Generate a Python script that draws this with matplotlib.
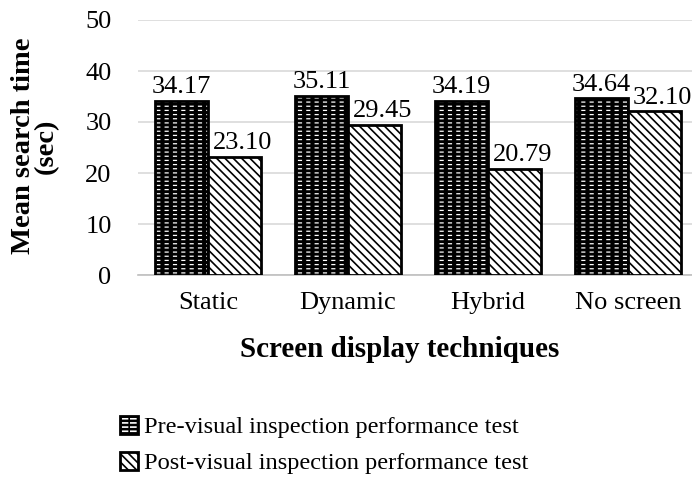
import matplotlib
matplotlib.use("Agg")
import matplotlib.pyplot as plt
import numpy as np

categories = ["Static", "Dynamic", "Hybrid", "No screen"]
pre_values = [34.17, 35.11, 34.19, 34.64]
post_values = [23.10, 29.45, 20.79, 32.10]
series_names = ["Pre-visual inspection performance test",
                "Post-visual inspection performance test"]
yticks = [0, 10, 20, 30, 40, 50]

plt.rcParams['font.family'] = ['Liberation Serif', 'DejaVu Serif']
plt.rcParams['hatch.linewidth'] = 1.2

FS = 19

fig = plt.figure(figsize=(6.92, 4.86), dpi=100)
ax = fig.add_axes([138/692, 1-275/486, 554/692, 255/486])

x = np.arange(len(categories))
w = 0.378


def hlw(container, lw):
    for p in container:
        if hasattr(p, 'set_hatch_linewidth'):
            p.set_hatch_linewidth(lw)


# pre bars: black with white horizontal dashes
pre_base = ax.bar(x - w/2, pre_values, w, facecolor='black', edgecolor='white',
                  hatch='----', linewidth=0, zorder=2)
hlw(pre_base, 0.9)
pre_top = ax.bar(x - w/2, pre_values, w, facecolor='none', edgecolor='black',
                 hatch='||', linewidth=2, zorder=3)
hlw(pre_top, 3.0)
post = ax.bar(x + w/2, post_values, w, facecolor='white', edgecolor='black',
              hatch='\\\\\\\\', linewidth=2, zorder=3)
hlw(post, 1.2)

for xi, v in zip(x - w/2, pre_values):
    ax.annotate(f"{v:.2f}", (xi, v), xytext=(0, 2), textcoords='offset points',
                ha='center', va='bottom', fontsize=FS)
for xi, v in zip(x + w/2, post_values):
    ax.annotate(f"{v:.2f}", (xi, v), xytext=(6, 2), textcoords='offset points',
                ha='center', va='bottom', fontsize=FS)

ax.set_xlim(-0.5, 3.457)
ax.set_ylim(0, 50)
ax.set_yticks(yticks)
ax.set_xticks(x)
ax.set_xticklabels(categories)
ax.tick_params(axis='both', length=0, labelsize=FS)
ax.tick_params(axis='x', pad=12)
ax.tick_params(axis='y', pad=19)
ax.grid(axis='y', color='#d9d9d9', linewidth=1.2, zorder=0)
ax.set_axisbelow(True)
for s in ['top', 'right', 'left']:
    ax.spines[s].set_visible(False)
ax.spines['bottom'].set_color('#bfbfbf')
ax.spines['bottom'].set_linewidth(1.2)

fig.text(35/692, 1-146/486, "Mean search time\n(sec)", rotation=90,
         ha='center', va='center', fontsize=20.5, fontweight='bold', linespacing=0.9)
fig.text(400/692, 1-349/486, "Screen display techniques", ha='center', va='center',
         fontsize=21, fontweight='bold')

leg = fig.legend([(pre_base[0], pre_top[0]), post[0]], series_names,
                 loc='upper left', bbox_to_anchor=(120/692, 1-416/486),
                 frameon=False, fontsize=17.6, handlelength=0.75, handleheight=0.75,
                 handletextpad=0.25, labelspacing=0.55, borderaxespad=0,
                 borderpad=0)

fig.savefig("out.png", dpi=100)
